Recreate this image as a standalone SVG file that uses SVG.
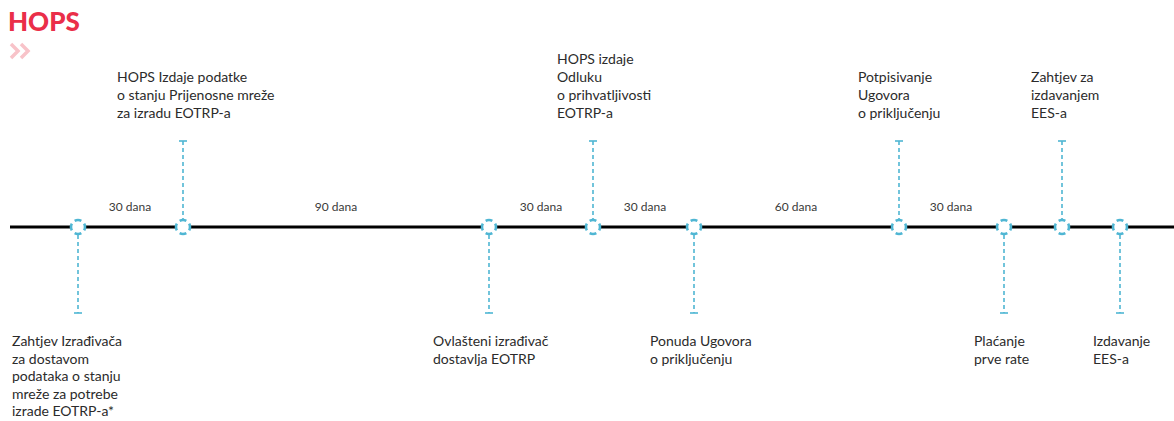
<svg xmlns="http://www.w3.org/2000/svg" width="1174" height="421" viewBox="0 0 1174 421">
<defs>
<style>
.t{font-family:Lato,"Open Sans",sans-serif;font-size:14px;fill:#2b2b2b}
.d{font-family:Lato,"Open Sans",sans-serif;font-size:12px;fill:#3a3a3a;text-anchor:middle}
.v{stroke:#4fb6d3;stroke-width:1.6;stroke-dasharray:4 3;fill:none}
.cap{stroke:#4fb6d3;stroke-width:1.6;fill:none}
.c{fill:#fff;stroke:#4fb6d3;stroke-width:2.6;stroke-dasharray:7 4;stroke-dashoffset:3.5}
</style>
</defs>
<rect width="1174" height="421" fill="#fff"/>
<g id="title">
<text x="8" y="31" font-family="Lato,'Open Sans',sans-serif" font-weight="900" font-size="26" fill="#ea2e49">HOPS</text>
<polyline points="11,44 18,51 11,58" fill="none" stroke="#f8c3c9" stroke-width="3.5"/>
<polyline points="21,44 28,51 21,58" fill="none" stroke="#f8c3c9" stroke-width="3.5"/>
</g>
<g id="connectors">
<line x1="10" y1="227" x2="1174" y2="227" stroke="#000" stroke-width="3"/>
<line class="v" x1="183" y1="141" x2="183" y2="219"/><line class="cap" x1="179" y1="141" x2="187" y2="141"/>
<line class="v" x1="593" y1="141" x2="593" y2="219"/><line class="cap" x1="589" y1="141" x2="597" y2="141"/>
<line class="v" x1="899" y1="141" x2="899" y2="219"/><line class="cap" x1="895" y1="141" x2="903" y2="141"/>
<line class="v" x1="1062" y1="141" x2="1062" y2="219"/><line class="cap" x1="1058" y1="141" x2="1066" y2="141"/>
<line class="v" x1="78" y1="235" x2="78" y2="313"/><line class="cap" x1="74" y1="313" x2="82" y2="313"/>
<line class="v" x1="489" y1="235" x2="489" y2="313"/><line class="cap" x1="485" y1="313" x2="493" y2="313"/>
<line class="v" x1="694" y1="235" x2="694" y2="313"/><line class="cap" x1="690" y1="313" x2="698" y2="313"/>
<line class="v" x1="1004" y1="235" x2="1004" y2="313"/><line class="cap" x1="1000" y1="313" x2="1008" y2="313"/>
<line class="v" x1="1120" y1="235" x2="1120" y2="313"/><line class="cap" x1="1116" y1="313" x2="1124" y2="313"/>
</g>
<g id="durations">
<text class="d" x="130" y="211">30 dana</text>
<text class="d" x="336" y="211">90 dana</text>
<text class="d" x="541" y="211">30 dana</text>
<text class="d" x="645" y="211">30 dana</text>
<text class="d" x="796" y="211">60 dana</text>
<text class="d" x="951" y="211">30 dana</text>
</g>
<g id="n1"><circle class="c" cx="78" cy="227" r="7" pathLength="44"/>
<text class="t" x="12" y="346"><tspan x="12">Zahtjev Izrađivača</tspan><tspan x="12" dy="17.5">za dostavom</tspan><tspan x="12" dy="17.5">podataka o stanju</tspan><tspan x="12" dy="17.5">mreže za potrebe</tspan><tspan x="12" dy="17.5">izrade EOTRP-a*</tspan></text></g>
<g id="n2"><circle class="c" cx="183" cy="227" r="7" pathLength="44"/>
<text class="t" x="117" y="82"><tspan x="117">HOPS Izdaje podatke</tspan><tspan x="117" dy="18">o stanju Prijenosne mreže</tspan><tspan x="117" dy="18">za izradu EOTRP-a</tspan></text></g>
<g id="n3"><circle class="c" cx="489" cy="227" r="7" pathLength="44"/>
<text class="t" x="433" y="346"><tspan x="433">Ovlašteni izrađivač</tspan><tspan x="433" dy="17.5">dostavlja EOTRP</tspan></text></g>
<g id="n4"><circle class="c" cx="593" cy="227" r="7" pathLength="44"/>
<text class="t" x="557" y="64"><tspan x="557">HOPS izdaje</tspan><tspan x="557" dy="18">Odluku</tspan><tspan x="557" dy="18">o prihvatljivosti</tspan><tspan x="557" dy="18">EOTRP-a</tspan></text></g>
<g id="n5"><circle class="c" cx="694" cy="227" r="7" pathLength="44"/>
<text class="t" x="650" y="346"><tspan x="650">Ponuda Ugovora</tspan><tspan x="650" dy="17.5">o priključenju</tspan></text></g>
<g id="n6"><circle class="c" cx="899" cy="227" r="7" pathLength="44"/>
<text class="t" x="858" y="82"><tspan x="858">Potpisivanje</tspan><tspan x="858" dy="18">Ugovora</tspan><tspan x="858" dy="18">o priključenju</tspan></text></g>
<g id="n7"><circle class="c" cx="1004" cy="227" r="7" pathLength="44"/>
<text class="t" x="974" y="346"><tspan x="974">Plaćanje</tspan><tspan x="974" dy="17.5">prve rate</tspan></text></g>
<g id="n8"><circle class="c" cx="1062" cy="227" r="7" pathLength="44"/>
<text class="t" x="1031" y="82"><tspan x="1031">Zahtjev za</tspan><tspan x="1031" dy="18">izdavanjem</tspan><tspan x="1031" dy="18">EES-a</tspan></text></g>
<g id="n9"><circle class="c" cx="1120" cy="227" r="7" pathLength="44"/>
<text class="t" x="1093" y="346"><tspan x="1093">Izdavanje</tspan><tspan x="1093" dy="17.5">EES-a</tspan></text></g>
</svg>
